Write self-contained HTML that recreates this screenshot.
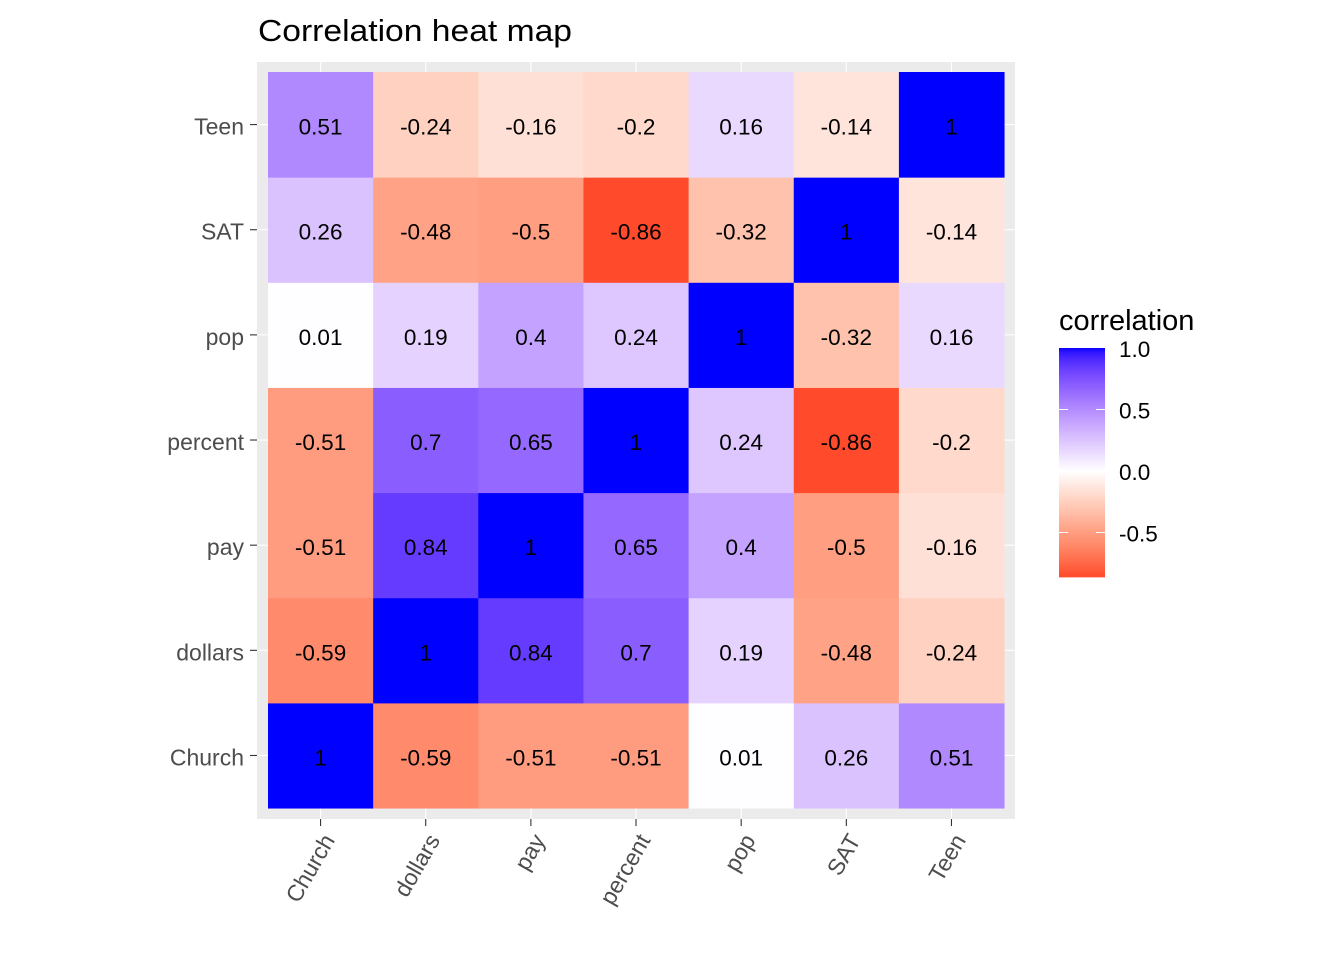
<!DOCTYPE html>
<html><head><meta charset="utf-8"><style>
html,body{margin:0;padding:0;background:#fff;}
svg{display:block;font-family:"Liberation Sans",Arial,sans-serif;}
</style></head><body>
<svg id="chart" width="1344" height="960"></svg>
<script>
const vars = ["Church","dollars","pay","percent","pop","SAT","Teen"];
const rowChurch  = [1,-0.59,-0.51,-0.51,0.01,0.26,0.51];
const rowDollars = [-0.59,1,0.84,0.7,0.19,-0.48,-0.24];
const rowPay     = [-0.51,0.84,1,0.65,0.4,-0.5,-0.16];
const rowPercent = [-0.51,0.7,0.65,1,0.24,-0.86,-0.2];
const rowPop     = [0.01,0.19,0.4,0.24,1,-0.32,0.16];
const rowSAT     = [0.26,-0.48,-0.5,-0.86,-0.32,1,-0.14];
const rowTeen    = [0.51,-0.24,-0.16,-0.2,0.16,-0.14,1];
const matrix = [rowChurch,rowDollars,rowPay,rowPercent,rowPop,rowSAT,rowTeen];
const legendTicks = [1.0,0.5,0.0,-0.5];
const legendLabels = ["1.0","0.5","0.0","-0.5"];

const NS="http://www.w3.org/2000/svg";
const svg=document.getElementById('chart');
function mk(tag,attrs,parent){const e=document.createElementNS(NS,tag);for(const k in attrs)e.setAttribute(k,attrs[k]);(parent||svg).appendChild(e);return e;}

function srgb2lin(c){c/=255;return c<=0.04045?c/12.92:Math.pow((c+0.055)/1.055,2.4);}
function lin2srgb(c){c=c<=0.0031308?12.92*c:1.055*Math.pow(c,1/2.4)-0.055;return Math.max(0,Math.min(255,Math.round(c*255)));}
function toLab(r,g,b){r=srgb2lin(r);g=srgb2lin(g);b=srgb2lin(b);
 let x=(0.4124*r+0.3576*g+0.1805*b)/0.95047,y=(0.2126*r+0.7152*g+0.0722*b),z=(0.0193*r+0.1192*g+0.9505*b)/1.08883;
 const f=t=>t>0.008856?Math.cbrt(t):7.787*t+16/116;x=f(x);y=f(y);z=f(z);
 return [116*y-16,500*(x-y),200*(y-z)];}
function fromLab(L,a,bb){let y=(L+16)/116,x=a/500+y,z=y-bb/200;
 const fi=t=>t*t*t>0.008856?t*t*t:(t-16/116)/7.787;x=fi(x)*0.95047;y=fi(y);z=fi(z)*1.08883;
 const r=3.2406*x-1.5372*y-0.4986*z,g=-0.9689*x+1.8758*y+0.0415*z,b=0.0557*x-0.2040*y+1.0570*z;
 return `rgb(${lin2srgb(r)},${lin2srgb(g)},${lin2srgb(b)})`;}
const LR=toLab(255,0,0),LW=toLab(255,255,255),LB=toLab(0,0,255);
function color(v){const t=Math.min(1,Math.abs(v));const e=v<0?LR:LB;
 return fromLab(LW[0]+(e[0]-LW[0])*t,LW[1]+(e[1]-LW[1])*t,LW[2]+(e[2]-LW[2])*t);}

const x0=268,y0=72,cw=105.15;
const xC=i=>x0+cw*(i+0.5);
const yC=i=>y0+cw*(vars.length-1-i+0.5);

mk('text',{x:258,y:41,'font-size':'31','fill':'#000',textLength:'314',lengthAdjust:'spacingAndGlyphs',}).textContent='Correlation heat map';
mk('rect',{x:257,y:62,width:758,height:757,fill:'#EBEBEB',});
for(let i=0;i<vars.length;i++){
 mk('line',{x1:xC(i),x2:xC(i),y1:62,y2:819,stroke:'#fff','stroke-width':1.1});
 mk('line',{x1:257,x2:1015,y1:yC(i),y2:yC(i),stroke:'#fff','stroke-width':1.1});
}
for(let r=0;r<vars.length;r++){for(let c=0;c<vars.length;c++){
 const v=matrix[r][c];
 const t=mk('rect',{x:xC(c)-cw/2,y:yC(r)-cw/2,width:cw+0.5,height:cw+0.5,fill:color(v)});
 
 
 const tx=mk('text',{x:xC(c),y:yC(r)+10,'font-size':'22.5','text-anchor':'middle',fill:'#000'});
 
 
 tx.textContent=String(v);
}}
for(let i=0;i<vars.length;i++){
 mk('line',{x1:250,x2:257,y1:yC(i),y2:yC(i),stroke:'#333','stroke-width':1.1});
 const yl=mk('text',{x:244,y:yC(i)+10,'font-size':'23','text-anchor':'end',fill:'#4D4D4D'});
 
 
 yl.textContent=vars[i];
 mk('line',{x1:xC(i),x2:xC(i),y1:819,y2:826,stroke:'#333','stroke-width':1.1});
 const xl=mk('text',{x:0,y:0,'font-size':'23','text-anchor':'end',fill:'#4D4D4D',transform:`translate(${xC(i)+15},${840}) rotate(-60)`});
 
 
 xl.textContent=vars[i];
}
const lg=mk('g',{});
mk('text',{x:1059,y:330,'font-size':'29',fill:'#000',},lg).textContent='correlation';
const ly=v=>471-v*123;
const vmin=-0.86,vmax=1,steps=120;
for(let k=0;k<steps;k++){
 const a=vmax-(vmax-vmin)*k/steps,b=vmax-(vmax-vmin)*(k+1)/steps;
 mk('rect',{x:1059,y:ly(a),width:46,height:ly(b)-ly(a)+0.6,fill:color((a+b)/2)},lg);
}
legendTicks.forEach((v,i)=>{
 if(v<1){mk('line',{x1:1059,x2:1068,y1:ly(v),y2:ly(v),stroke:'#fff','stroke-width':1},lg);
 mk('line',{x1:1096,x2:1105,y1:ly(v),y2:ly(v),stroke:'#fff','stroke-width':1},lg);}
 const t=mk('text',{x:1119,y:ly(v)+9,'font-size':'22.5',fill:'#000'},lg);
 
 
 t.textContent=legendLabels[i];
});
</script>
</body></html>
